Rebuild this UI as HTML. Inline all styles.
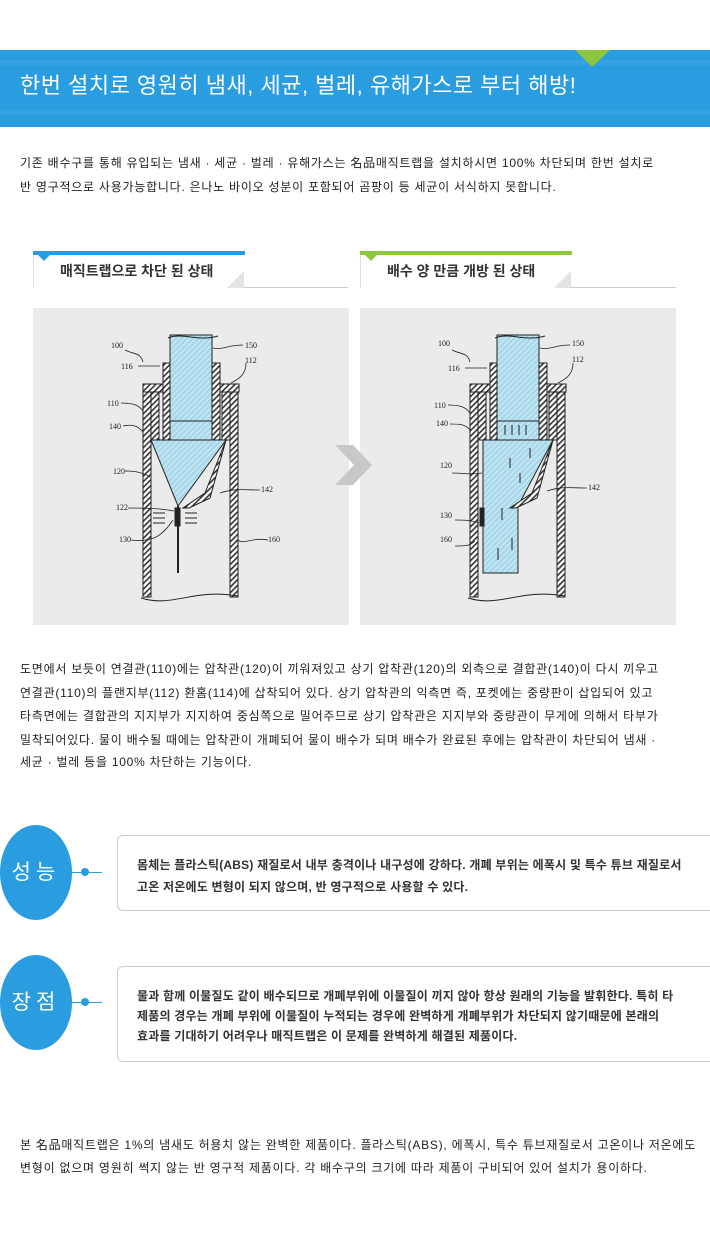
<!DOCTYPE html>
<html><head><meta charset="utf-8"><style>
*{margin:0;padding:0;box-sizing:border-box}
body{width:710px;height:1250px;background:#fff;position:relative;overflow:hidden;font-family:"Liberation Sans","Noto Sans CJK KR","NanumGothic",sans-serif;color:#222}
.a{position:absolute;white-space:nowrap}
.t{font-size:12px;line-height:14px;color:#222;letter-spacing:0.75px}
.banner{position:absolute;left:0;top:50px;width:710px;height:77px;background:#2a9ce0}
.tab{position:absolute;top:251px;width:211px;height:37px;border-left:1px solid #ddd;background:#fff}
.tab .bar{position:absolute;left:-1px;top:0;width:212px;height:4px}
.tab .tri{position:absolute;left:4px;top:4px;width:0;height:0;border-left:6px solid transparent;border-right:6px solid transparent}
.tab .corner{position:absolute;right:0;bottom:0;width:0;height:0;border-left:17px solid transparent;border-bottom:17px solid #e4e4e4}
.tab span{position:absolute;left:26px;top:10px;font-size:14px;font-weight:bold;color:#333}
.line{position:absolute;top:287px;height:1px;background:#ccc}
.img{position:absolute;top:308px;width:316px;height:317px;background:#ebebeb}
.circ{position:absolute;left:0;width:72px;height:95px;border-radius:50%;background:#2a9ce0;color:#fff;font-size:21px;text-align:center;line-height:95px;letter-spacing:5px}
.conn{position:absolute;left:72px;width:30px;height:1px;background:#2a9ce0}
.dot{position:absolute;left:81px;width:8px;height:8px;border-radius:50%;background:#2a9ce0}
.box{position:absolute;left:117px;width:600px;border:1px solid #ccc;border-radius:6px;background:#fff}
.box div{position:absolute;left:19px;font-size:12px;font-weight:bold;color:#333;white-space:nowrap;letter-spacing:0.2px}
</style></head><body>
<div class="banner">
<svg width="710" height="77" style="position:absolute;left:0;top:0">
<rect x="0" y="10" width="710" height="5" fill="#3ba5e4" opacity=".5"/>
<rect x="0" y="60" width="710" height="5" fill="#3ba5e4" opacity=".5"/>
<polygon points="575,0 610,0 592,17" fill="#8dc63f"/>
</svg>
<div class="a" style="left:20px;top:22px;font-size:22px;color:#fff;line-height:28px;letter-spacing:0.5px">한번 설치로 영원히 냄새, 세균, 벌레, 유해가스로 부터 해방!</div>
</div>
<div class="a t" style="left:20px;top:156px">기존 배수구를 통해 유입되는 냄새 · 세균 · 벌레 · 유해가스는 名品매직트랩을 설치하시면 100% 차단되며 한번 설치로</div>
<div class="a t" style="left:20px;top:180px">반 영구적으로 사용가능합니다. 은나노 바이오 성분이 포함되어 곰팡이 등 세균이 서식하지 못합니다.</div>

<div class="tab" style="left:33px"><div class="bar" style="background:#2a9ce0"></div><div class="tri" style="border-top:6px solid #2a9ce0"></div><div class="corner"></div><span>매직트랩으로 차단 된 상태</span></div>
<div class="line" style="left:244px;width:104px"></div>
<div class="tab" style="left:360px"><div class="bar" style="background:#8dc63f"></div><div class="tri" style="border-top:6px solid #8dc63f"></div><div class="corner"></div><span>배수 양 만큼 개방 된 상태</span></div>
<div class="line" style="left:571px;width:105px"></div>

<svg width="0" height="0" style="position:absolute"><defs>
<pattern id="h" width="4" height="4" patternUnits="userSpaceOnUse" patternTransform="rotate(45)"><rect width="4" height="4" fill="#fff"/><rect width="1.6" height="4" fill="#333"/></pattern>
<pattern id="w" width="4" height="4" patternUnits="userSpaceOnUse" patternTransform="rotate(45)"><rect width="4" height="4" fill="#a8d8ea"/><rect width="1" height="4" fill="#d4eef6"/></pattern>
</defs></svg>

<div class="img" style="left:33px">
<svg width="316" height="317" font-family="Liberation Serif,serif" font-size="8" fill="none" stroke="#222">
<rect x="110" y="81" width="8" height="208" fill="url(#h)"/>
<rect x="197" y="81" width="8" height="208" fill="url(#h)"/>
<rect x="110" y="76" width="96" height="8" fill="url(#h)"/>
<rect x="130" y="55" width="8" height="78" fill="url(#h)"/>
<rect x="179" y="55" width="8" height="78" fill="url(#h)"/>
<rect x="118" y="84" width="8" height="48" fill="url(#h)"/>
<rect x="189" y="84" width="8" height="48" fill="url(#h)"/>
<rect x="137" y="27" width="42" height="86" fill="url(#w)"/>
<rect x="137" y="113" width="42" height="19" fill="url(#w)"/>
<polygon points="118,132 193,132 145,198" fill="url(#w)"/>
<path d="M193,132 L172,185 L150,200 L156,200 L177,190 Z" fill="url(#h)"/>
<line x1="145" y1="198" x2="145" y2="265" stroke-width="2"/>
<rect x="142" y="200" width="5" height="18" fill="#222"/>
<path d="M108,290 C140,300 160,280 205,288" />
<path d="M135,30 C150,24 165,34 185,28"/>
<g stroke-width="1"><path d="M120,205h12M120,210h12M120,215h12M152,205h12M152,210h12M152,215h12"/></g>
<g stroke-width=".8"><path d="M92,42c10,5 15,2 18,12M105,58h22M88,95c12,0 18,2 22,8M90,118c10,-2 15,0 20,6M92,163c12,0 18,2 25,6M95,200c15,0 30,0 46,3M98,232c20,2 30,-2 42,-20M227,182c-15,0 -25,-2 -40,3M235,232c-15,-3 -25,5 -30,0M210,37c-15,0 -20,5 -30,3M213,55c0,10 -5,15 -15,20"/></g>
<g fill="#222" stroke="none"><text x="78" y="40">100</text><text x="212" y="40">150</text><text x="212" y="55">112</text><text x="88" y="61">116</text><text x="74" y="98">110</text><text x="76" y="121">140</text><text x="80" y="166">120</text><text x="228" y="184">142</text><text x="83" y="202">122</text><text x="86" y="234">130</text><text x="235" y="234">160</text></g>
</svg>
</div>
<div class="img" style="left:360px">
<svg width="316" height="317" font-family="Liberation Serif,serif" font-size="8" fill="none" stroke="#222">
<rect x="110" y="81" width="8" height="208" fill="url(#h)"/>
<rect x="197" y="81" width="8" height="208" fill="url(#h)"/>
<rect x="110" y="76" width="96" height="8" fill="url(#h)"/>
<rect x="130" y="55" width="8" height="78" fill="url(#h)"/>
<rect x="179" y="55" width="8" height="78" fill="url(#h)"/>
<rect x="118" y="84" width="8" height="48" fill="url(#h)"/>
<rect x="189" y="84" width="8" height="48" fill="url(#h)"/>
<rect x="137" y="27" width="42" height="86" fill="url(#w)"/>
<rect x="137" y="113" width="42" height="19" fill="url(#w)"/>
<polygon points="123,132 193,132 158,198 158,265 123,265" fill="url(#w)"/>
<path d="M193,132 L172,185 L150,200 L156,200 L177,190 Z" fill="url(#h)"/>
<rect x="120" y="200" width="4" height="18" fill="#222"/>
<path d="M108,290 C140,300 160,280 205,288"/>
<path d="M135,30 C150,24 165,34 185,28"/>
<g stroke-width="1"><path d="M145,117v10M152,117v10M159,117v10M166,117v10M150,150v10M160,165v10M142,200v12M152,230v12M138,240v12M170,140v10"/></g>
<g stroke-width=".8"><path d="M92,42c10,5 15,2 18,12M105,60h22M88,97c12,0 18,2 22,8M90,116c10,0 15,0 20,6M92,165c12,0 18,2 30,0M95,212c10,0 15,0 24,3M95,238c10,0 15,0 20,-5M227,180c-15,0 -25,-2 -40,3M210,37c-15,0 -20,5 -30,3M213,55c0,10 -5,15 -15,20"/></g>
<g fill="#222" stroke="none"><text x="78" y="38">100</text><text x="212" y="38">150</text><text x="212" y="54">112</text><text x="88" y="63">116</text><text x="74" y="100">110</text><text x="76" y="118">140</text><text x="80" y="160">120</text><text x="228" y="182">142</text><text x="80" y="210">130</text><text x="80" y="234">160</text></g>
</svg>
</div>
<svg class="a" style="left:335px;top:445px" width="40" height="42"><polygon points="0,0 18,0 37,20 18,40 0,40 19,20" fill="#c8c8c8"/></svg>

<div class="a t" style="left:20px;top:662px">도면에서 보듯이 연결관(110)에는 압착관(120)이 끼워져있고 상기 압착관(120)의 외측으로 결합관(140)이 다시 끼우고</div>
<div class="a t" style="left:20px;top:686px">연결관(110)의 플랜지부(112) 환홈(114)에 삽착되어 있다. 상기 압착관의 익측면 즉, 포켓에는 중량판이 삽입되어 있고</div>
<div class="a t" style="left:20px;top:709px">타측면에는 결합관의 지지부가 지지하여 중심쪽으로 밀어주므로 상기 압착관은 지지부와 중량관이 무게에 의해서 타부가</div>
<div class="a t" style="left:20px;top:733px">밀착되어있다. 물이 배수될 때에는 압착관이 개폐되어 물이 배수가 되며 배수가 완료된 후에는 압착관이 차단되어 냄새 ·</div>
<div class="a t" style="left:20px;top:755px">세균 · 벌레 등을 100% 차단하는 기능이다.</div>

<div class="circ" style="top:825px">성능</div>
<div class="conn" style="top:872px"></div><div class="dot" style="top:868px"></div>
<div class="box" style="top:835px;height:76px"><div style="top:20px">몸체는 플라스틱(ABS) 재질로서 내부 충격이나 내구성에 강하다. 개폐 부위는 에폭시 및 특수 튜브 재질로서</div><div style="top:42px">고온 저온에도 변형이 되지 않으며, 반 영구적으로 사용할 수 있다.</div></div>

<div class="circ" style="top:955px">장점</div>
<div class="conn" style="top:1002px"></div><div class="dot" style="top:998px"></div>
<div class="box" style="top:966px;height:96px"><div style="top:20px">물과 함께 이물질도 같이 배수되므로 개폐부위에 이물질이 끼지 않아 항상 원래의 기능을 발휘한다. 특히 타</div><div style="top:40px">제품의 경우는 개폐 부위에 이물질이 누적되는 경우에 완벽하게 개폐부위가 차단되지 않기때문에 본래의</div><div style="top:60px">효과를 기대하기 어려우나 매직트랩은 이 문제를 완벽하게 해결된 제품이다.</div></div>

<div class="a t" style="left:20px;top:1138px">본 名品매직트랩은 1%의 냄새도 허용치 않는 완벽한 제품이다. 플라스틱(ABS), 에폭시, 특수 튜브재질로서 고온이나 저온에도</div>
<div class="a t" style="left:20px;top:1161px">변형이 없으며 영원히 썩지 않는 반 영구적 제품이다. 각 배수구의 크기에 따라 제품이 구비되어 있어 설치가 용이하다.</div>
</body></html>
